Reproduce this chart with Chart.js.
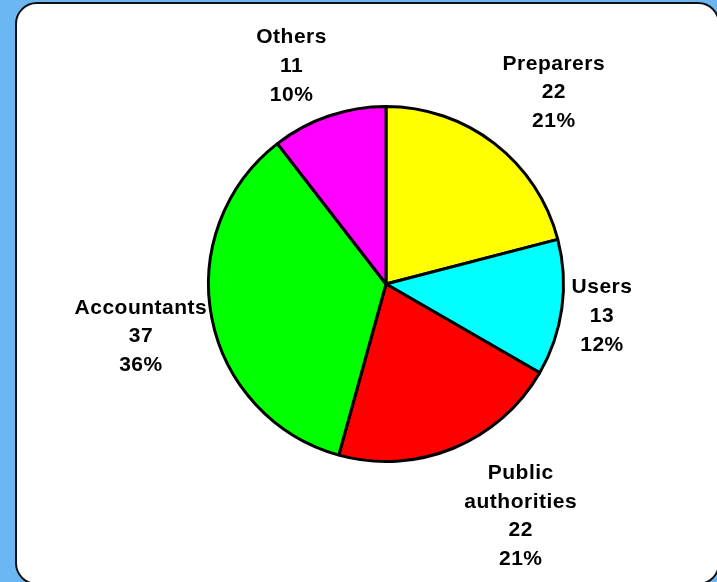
<!DOCTYPE html>
<html>
<head>
<meta charset="utf-8">
<script src="https://cdn.jsdelivr.net/npm/chart.js@4"></script>
<style>
html, body { margin: 0; padding: 0; }
body { width: 717px; height: 582px; background: #6cb6f2; overflow: hidden; position: relative; }
#panel { position: absolute; left: 15px; top: 2px; width: 701px; height: 579px; background: #fff; border: 2px solid #111; border-radius: 22px; }
#wrap { position: absolute; left: 0; top: 0; width: 717px; height: 582px; }
</style>
</head>
<body>
<div id="panel"></div>
<div id="wrap"><canvas id="chart" width="717" height="582"></canvas></div>
<script>
// ---- data ----
var categories = ['Preparers', 'Users', 'Public authorities', 'Accountants', 'Others'];
var labelLines = [['Preparers'], ['Users'], ['Public', 'authorities'], ['Accountants'], ['Others']];
var counts = [22, 13, 22, 37, 11];
var percents = ['21%', '12%', '21%', '36%', '10%'];
var sliceColors = ['#ffff00', '#00ffff', '#ff0000', '#00ff00', '#ff00ff'];

// draws "name / count / percent" outside each slice
var sliceLabels = {
    id: 'sliceLabels',
    afterDatasetsDraw: function (chart, args, opts) {
        var ctx = chart.ctx;
        var meta = chart.getDatasetMeta(0);
        ctx.save();
        ctx.font = 'bold 21px "Liberation Sans", Arial, sans-serif';
        ctx.letterSpacing = '0.5px';
        ctx.fillStyle = '#000';
        ctx.textAlign = 'center';
        ctx.textBaseline = 'middle';
        meta.data.forEach(function (arc, i) {
            var lines = labelLines[i].concat([String(counts[i]), percents[i]]);
            var w = 0;
            lines.forEach(function (l) { w = Math.max(w, ctx.measureText(l).width); });
            var h = lines.length * opts.lineHeight;
            var p = arc.getProps(['x', 'y', 'startAngle', 'endAngle', 'outerRadius']);
            var mid = (p.startAngle + p.endAngle) / 2;
            var c = Math.cos(mid), s = Math.sin(mid);
            var r = p.outerRadius + opts.gap;
            var cx = p.x + r * c + w / 2 * c + opts.nudge[i][0];
            var cy = p.y + r * s + h / 2 * s + opts.nudge[i][1] + 1.5;
            lines.forEach(function (l, j) {
                ctx.fillText(l, cx, cy - h / 2 + opts.lineHeight * (j + 0.5));
            });
        });
        ctx.restore();
    }
};

var chart = new Chart(document.getElementById('chart'), {
    type: 'pie',
    data: {
        labels: categories,
        datasets: [{
            data: counts,
            backgroundColor: sliceColors,
            borderColor: '#000',
            borderWidth: 3
        }]
    },
    options: {
        responsive: false,
        animation: false,
        layout: { padding: { left: 207, right: 152, top: 105, bottom: 119 } },
        plugins: {
            legend: { display: false },
            tooltip: { enabled: false },
            sliceLabels: {
                gap: 8,
                lineHeight: 28.7,
                nudge: [[23, -12], [2, 0], [43, 6], [2, 7], [-23, -3]]
            }
        }
    },
    plugins: [sliceLabels]
});
</script>
</body>
</html>
